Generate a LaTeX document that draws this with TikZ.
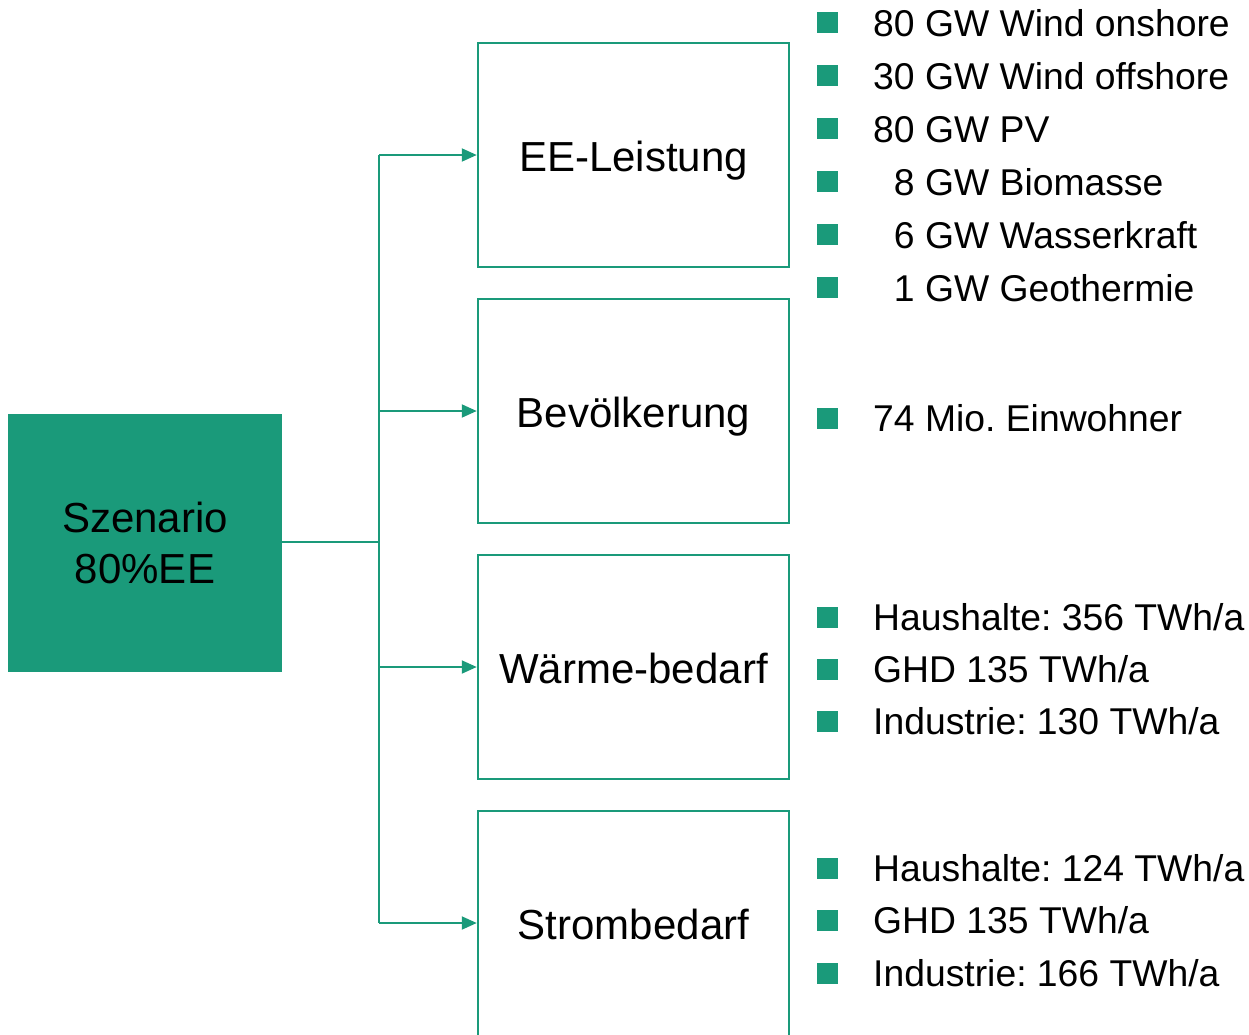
\documentclass[tikz,border=0pt]{standalone}
\usepackage{fontspec}
\setmainfont{Liberation Sans}
\usetikzlibrary{arrows.meta}
\definecolor{eegreen}{HTML}{1A9A7A}
\frenchspacing
\tikzset{
  bigbox/.style={draw=eegreen, line width=2.5pt, minimum width=311pt, minimum height=224pt, inner sep=0pt, text height=38pt, text depth=6pt, font=\fontsize{42}{50}\selectfont},
  bul/.style={fill=eegreen, minimum size=21pt, inner sep=0pt},
  btext/.style={anchor=base west, inner sep=0pt, font=\fontsize{37.3}{44}\selectfont},
  link/.style={draw=eegreen, line width=2pt},
  arr/.style={link, -{Triangle[length=15pt,width=13pt]}},
}
\begin{document}
\begin{tikzpicture}[x=1pt,y=-1pt]
\useasboundingbox (0,0) rectangle (1249,1034);
\node[fill=eegreen, minimum width=274pt, minimum height=258pt, inner sep=0pt, align=center, font=\fontsize{42}{51}\selectfont] (sz) at (145,543) {Szenario\\80\%EE};
\node[bigbox] (ee) at (633.5,155) {EE-Leistung};
\node[bigbox] (bev) at (633.5,411) {Bevölkerung};
\node[bigbox] (wb) at (633.5,667) {Wärme-bedarf};
\node[bigbox, minimum height=244pt, text depth=26pt] (sb) at (633.5,933) {Strombedarf};
\coordinate (j0) at (379,542);
\coordinate (j1) at (379,155);
\coordinate (j2) at (379,411);
\coordinate (j3) at (379,667);
\coordinate (j4) at (379,923);
\draw[link] (sz.east |- j0) -- (j0);
\draw[link] (j1) -- (j4);
\draw[arr] (j1) -- (ee.west);
\draw[arr] (j2) -- (bev.west);
\draw[arr] (j3) -- (wb.west);
\draw[arr] (j4) -- (j4 -| sb.west);
% bullet lists
\foreach \i/\y/\t in {1/22.5/{80 GW Wind onshore}, 2/75.5/{30 GW Wind offshore}, 3/128.5/{80 GW PV}, 4/181.5/{\phantom{0}8 GW Biomasse}, 5/234.5/{\phantom{0}6 GW Wasserkraft}, 6/287.5/{\phantom{0}1 GW Geothermie}, 7/418/{74 Mio. Einwohner}, 8/617/{Haushalte: 356 TWh/a}, 9/669/{GHD 135 TWh/a}, 10/721/{Industrie: 130 TWh/a}, 11/868/{Haushalte: 124 TWh/a}, 12/920/{GHD 135 TWh/a}, 13/973/{Industrie: 166 TWh/a}}{
  \node[bul] (b\i) at (827.5,\y) {};
  \node[btext] (t\i) at (873,\y+13.5) {\t};
}
\end{tikzpicture}
\end{document}
